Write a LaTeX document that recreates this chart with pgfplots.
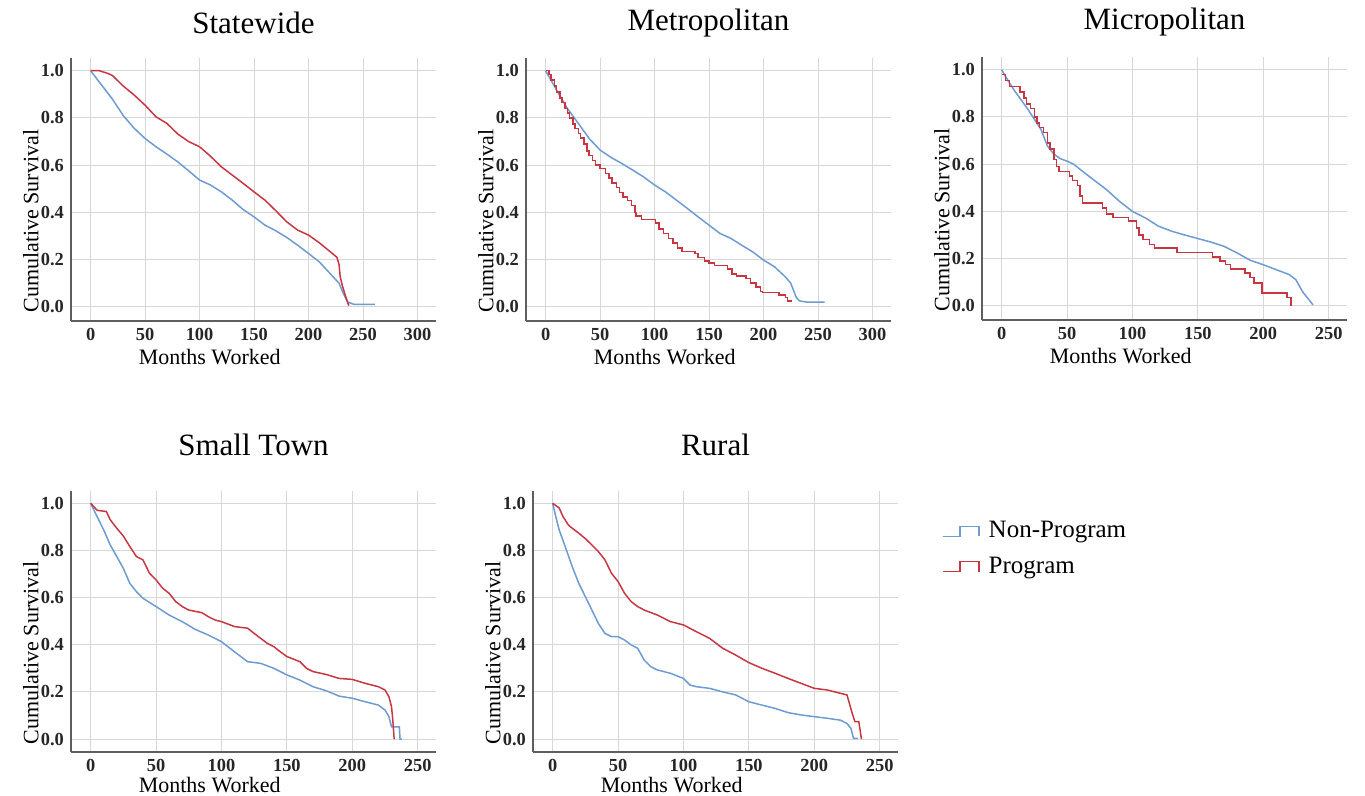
\documentclass[border=0pt]{standalone}
\usepackage{fontspec}
\setmainfont{Liberation Serif}
\usepackage{pgfplots}
\pgfplotsset{compat=1.18}

\definecolor{nonprog}{RGB}{110,155,210}
\definecolor{prog}{RGB}{200,55,65}
\definecolor{gridgray}{RGB}{215,215,215}
\definecolor{axisgray}{RGB}{95,95,95}

\pgfplotsset{
  km/.style={
    scale only axis,
    width=182.5pt,
    axis x line*=bottom,
    axis y line*=left,
    axis line style={-, draw=axisgray, line width=1pt},
    major tick length=0pt,
    grid=major,
    major grid style={draw=gridgray, line width=0.5pt},
    ytick={0,0.2,0.4,0.6,0.8,1.0},
    yticklabel style={/pgf/number format/.cd,fixed,precision=1,zerofill},
    /pgf/number format/assume math mode=true,
    tick label style={font=\fontsize{9.2}{10}\selectfont\bfseries, text=black!85},
    label style={font=\fontsize{11}{13}\selectfont},
    every axis title shift=0pt,
    title style={font=\fontsize{15.5}{18}\selectfont, anchor=center},
    xlabel={Months Worked},
    ylabel={Cumulative Survival},
    ylabel style={at={(axis description cs:-0.11,0.38)}, anchor=center},
    legend image code/.code={
      \draw[#1] (0pt,-2.5pt) -- (8.5pt,-2.5pt) -- (8.5pt,2.5pt) -- (18pt,2.5pt) -- (18pt,-2.5pt);
      \path (20.5pt,0pt);
    },
  },
  toprow/.style={
    height=131.5pt, ymin=-0.06, ymax=1.054,
    title style={at={(axis description cs:0.5,1.133)}},
    xlabel style={at={(axis description cs:0.38,-0.137)}, anchor=center},
  },
  botrow/.style={
    height=130.5pt, ymin=-0.055, ymax=1.052,
    title style={at={(axis description cs:0.5,1.176)}},
    xlabel style={at={(axis description cs:0.38,-0.126)}, anchor=center},
  },
  np/.style={color=nonprog, line width=0.75pt},
  pr/.style={color=prog, line width=0.75pt},
}

\begin{document}
\begin{tikzpicture}
\useasboundingbox (0,0) rectangle (682.5pt,-398pt);

% Statewide
\begin{axis}[km, toprow, at={(35.5pt,-160.5pt)}, anchor=south west,
  title={Statewide}, xmin=-18, xmax=317, xtick={0,50,...,300}]
\addplot[np] coordinates {(0,1.0)(10,0.94)(20,0.88)(30,0.81)(40,0.756)(50,0.713)(60,0.678)(70,0.647)(80,0.614)(90,0.576)(100,0.537)(110,0.516)(120,0.487)(130,0.452)(140,0.412)(150,0.381)(160,0.346)(170,0.322)(180,0.294)(190,0.261)(200,0.226)(210,0.19)(220,0.14)(228,0.10)(232,0.056)(236,0.02)(242,0.01)(261,0.01)};
\addplot[pr] coordinates {(0,1.0)(8,1.0)(15,0.99)(20,0.98)(30,0.935)(40,0.897)(50,0.854)(60,0.805)(70,0.777)(80,0.732)(90,0.70)(100,0.678)(110,0.638)(120,0.593)(130,0.558)(140,0.523)(150,0.487)(160,0.452)(170,0.407)(180,0.36)(190,0.325)(200,0.304)(210,0.271)(220,0.233)(226,0.21)(228,0.18)(229,0.13)(231,0.09)(233,0.06)(235,0.03)(237,0.005)};
\end{axis}

% Metropolitan
\begin{axis}[km, toprow, at={(263pt,-160.5pt)}, anchor=south west,
  title={Metropolitan}, xmin=-18, xmax=317, xtick={0,50,...,300}]
\addplot[np] coordinates {(0,1.0)(5,0.96)(10,0.918)(20,0.84)(30,0.777)(40,0.713)(50,0.664)(60,0.633)(70,0.607)(80,0.579)(90,0.55)(100,0.516)(110,0.487)(120,0.452)(130,0.417)(140,0.381)(150,0.346)(160,0.311)(170,0.29)(180,0.261)(190,0.233)(200,0.198)(210,0.17)(220,0.127)(225,0.10)(230,0.04)(233,0.025)(240,0.02)(256,0.02)};
\addplot[pr, const plot] coordinates {(0,1.0)(3,0.985)(5,0.96)(8,0.935)(10,0.91)(13,0.885)(15,0.865)(18,0.84)(20,0.82)(22,0.80)(25,0.775)(27,0.755)(30,0.735)(32,0.715)(35,0.69)(38,0.66)(40,0.64)(43,0.62)(46,0.60)(50,0.585)(55,0.565)(58,0.545)(61,0.525)(65,0.505)(68,0.485)(71,0.465)(75,0.45)(79,0.43)(82,0.40)(83,0.385)(88,0.37)(101,0.355)(104,0.33)(108,0.31)(113,0.29)(117,0.27)(121,0.25)(125,0.235)(137,0.225)(140,0.21)(146,0.195)(150,0.185)(155,0.175)(167,0.16)(171,0.14)(175,0.13)(184,0.12)(188,0.10)(193,0.085)(197,0.065)(199,0.06)(214,0.05)(220,0.04)(222,0.025)(226,0.025)};
\end{axis}

% Micropolitan
\begin{axis}[km, toprow, at={(491pt,-160pt)}, anchor=south west,
  title={Micropolitan}, xmin=-15, xmax=264, xtick={0,50,...,250}]
\addplot[np] coordinates {(0,1.0)(5,0.953)(10,0.91)(20,0.833)(30,0.748)(35,0.677)(40,0.642)(45,0.623)(50,0.613)(55,0.60)(60,0.578)(70,0.535)(80,0.493)(90,0.443)(100,0.40)(110,0.372)(120,0.337)(130,0.316)(140,0.30)(150,0.285)(160,0.27)(170,0.252)(180,0.224)(190,0.193)(200,0.174)(210,0.153)(220,0.132)(225,0.11)(230,0.06)(235,0.025)(238,0.004)};
\addplot[pr, const plot] coordinates {(0,0.98)(3,0.955)(6,0.93)(14,0.905)(17,0.88)(19,0.855)(22,0.835)(25,0.80)(27,0.775)(29,0.755)(32,0.735)(35,0.69)(37,0.665)(40,0.62)(42,0.59)(44,0.57)(52,0.55)(54,0.53)(58,0.51)(60,0.465)(62,0.435)(77,0.415)(80,0.39)(85,0.375)(97,0.36)(103,0.33)(105,0.30)(108,0.28)(113,0.26)(117,0.245)(134,0.225)(161,0.207)(167,0.19)(171,0.175)(175,0.155)(186,0.14)(190,0.12)(193,0.097)(199,0.055)(218,0.035)(221,0.0)};
\end{axis}

% Small Town
\begin{axis}[km, botrow, at={(35.5pt,-376pt)}, anchor=south west,
  title={Small Town}, xmin=-15, xmax=264, xtick={0,50,...,250}]
\addplot[np] coordinates {(0,1.0)(5,0.943)(10,0.887)(15,0.823)(20,0.774)(25,0.724)(30,0.66)(35,0.625)(40,0.597)(50,0.562)(60,0.526)(70,0.498)(80,0.465)(90,0.441)(100,0.413)(110,0.37)(120,0.328)(130,0.321)(140,0.30)(150,0.272)(160,0.25)(170,0.222)(180,0.205)(190,0.182)(200,0.173)(210,0.158)(220,0.144)(225,0.123)(228,0.095)(230,0.052)(236,0.052)(236.5,0.0)(238,0.0)};
\addplot[pr] coordinates {(0,1.0)(5,0.97)(12,0.965)(15,0.93)(20,0.894)(25,0.861)(30,0.816)(35,0.774)(40,0.76)(45,0.703)(50,0.675)(55,0.64)(60,0.618)(65,0.583)(70,0.562)(75,0.547)(85,0.536)(90,0.519)(95,0.505)(100,0.498)(110,0.477)(120,0.47)(125,0.448)(130,0.427)(135,0.406)(140,0.392)(145,0.37)(150,0.35)(160,0.328)(165,0.30)(170,0.286)(180,0.274)(190,0.257)(200,0.253)(210,0.236)(220,0.222)(225,0.208)(228,0.18)(230,0.137)(231,0.08)(232,0.0)};
\end{axis}

% Rural
\begin{axis}[km, botrow, at={(266.5pt,-376pt)}, anchor=south west,
  title={Rural}, xmin=-15, xmax=264, xtick={0,50,...,250},
  legend style={at={(axis description cs:1.12,0.778)}, anchor=west, draw=none, fill=none,
    font=\fontsize{12.5}{15}\selectfont, row sep=4pt, inner sep=0pt},
  legend cell align=left]
\addplot[np] coordinates {(0,1.0)(3,0.93)(5,0.887)(10,0.81)(15,0.731)(20,0.66)(25,0.604)(30,0.547)(35,0.49)(40,0.448)(45,0.434)(50,0.434)(55,0.42)(60,0.399)(65,0.385)(70,0.335)(75,0.307)(80,0.293)(90,0.279)(100,0.257)(105,0.229)(110,0.222)(120,0.215)(130,0.20)(140,0.187)(150,0.158)(160,0.144)(170,0.13)(180,0.112)(190,0.102)(200,0.095)(210,0.088)(220,0.08)(225,0.066)(228,0.045)(230,0.003)(233.5,0.003)};
\addplot[pr] coordinates {(0,1.0)(5,0.98)(8,0.943)(12,0.908)(15,0.894)(20,0.873)(25,0.85)(30,0.823)(35,0.795)(40,0.76)(45,0.703)(50,0.668)(55,0.618)(60,0.583)(65,0.562)(70,0.547)(80,0.526)(90,0.498)(100,0.484)(110,0.455)(120,0.427)(130,0.385)(140,0.356)(150,0.324)(160,0.30)(170,0.279)(180,0.257)(190,0.236)(200,0.215)(210,0.208)(220,0.194)(225,0.187)(229,0.109)(231,0.074)(234,0.074)(235,0.04)(236,0.0)};
\legend{Non-Program, Program}
\end{axis}
\end{tikzpicture}
\end{document}
